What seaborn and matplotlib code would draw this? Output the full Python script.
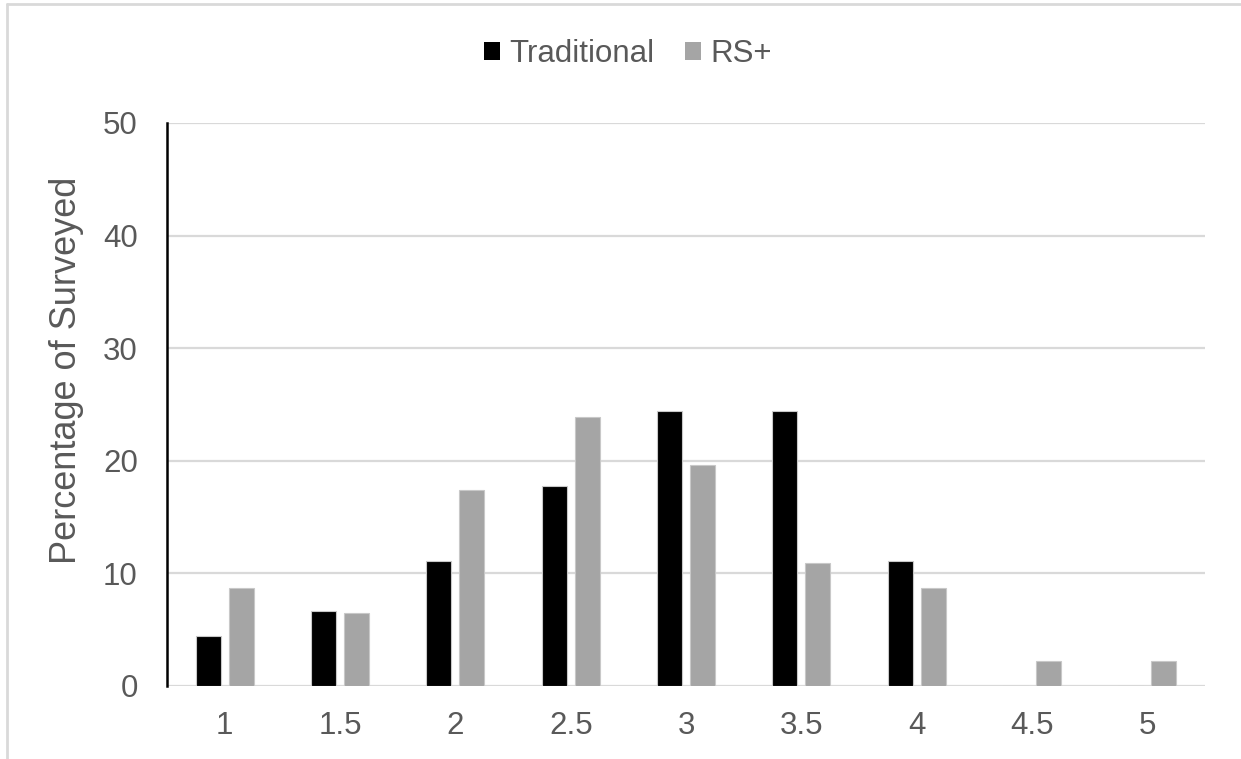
import matplotlib
matplotlib.use("Agg")
import matplotlib.pyplot as plt
from matplotlib.patches import Patch
from matplotlib.lines import Line2D
import seaborn as sns
import pandas as pd

# Score categories and share of respondents (%) per group
scores = ["1", "1.5", "2", "2.5", "3", "3.5", "4", "4.5", "5"]
traditional = [4.4, 6.7, 11.1, 17.8, 24.4, 24.4, 11.1, 0.0, 0.0]
rs_plus = [8.7, 6.5, 17.4, 23.9, 19.6, 10.9, 8.7, 2.2, 2.2]
groups = ["Traditional", "RS+"]
colors = {"Traditional": "#000000", "RS+": "#a5a5a5"}

df = pd.DataFrame({
    "score": scores * 2,
    "pct": traditional + rs_plus,
    "group": ["Traditional"] * len(scores) + ["RS+"] * len(scores),
})

sns.set_style("white")
plt.rcParams["font.family"] = ["Liberation Sans", "DejaVu Sans"]
text_color = "#595959"
fs = 22.5

fig = plt.figure(figsize=(12.41, 7.59), dpi=100)
ax = fig.add_axes([0.1346, 0.0962, 0.8364, 0.7418])

sns.barplot(data=df, x="score", y="pct", hue="group", order=scores,
            hue_order=groups, palette=colors, width=0.57, gap=0.24,
            edgecolor="#c8c8c8", linewidth=0.8, legend=False, ax=ax,
            zorder=3)

ax.set_ylim(0, 50)
ax.set_xlim(-0.5, len(scores) - 0.5)
ax.set_yticks(range(0, 51, 10))
ax.yaxis.grid(True, color="#d9d9d9", linewidth=1.6, zorder=0)
ax.set_axisbelow(True)

for side in ["top", "right", "bottom"]:
    ax.spines[side].set_visible(False)
ax.spines["left"].set_color("black")
ax.spines["left"].set_linewidth(1.8)

ax.tick_params(axis="y", direction="out", length=5, width=1.5,
               color="black", pad=16, labelsize=fs, labelcolor=text_color)
ax.tick_params(axis="x", length=0, pad=18, labelsize=fs,
               labelcolor=text_color)

ax.set_xlabel("")
ax.set_ylabel("Percentage of Surveyed", fontsize=26, color=text_color)
ax.yaxis.set_label_coords(-0.080, 0.561)

handles = [Patch(facecolor=colors[g], edgecolor="none") for g in groups]
fig.legend(handles, groups, loc="center", bbox_to_anchor=(0.506, 1 - 54 / 759),
           ncol=2, frameon=False, fontsize=fs, labelcolor=text_color,
           handlelength=0.5, handleheight=0.5, handletextpad=0.3,
           columnspacing=1.0)

# Light outer frame along the top and left edges
fig.add_artist(Line2D([7 / 1241, 1.0], [1 - 4 / 759, 1 - 4 / 759],
                      transform=fig.transFigure, color="#d9d9d9", linewidth=2))
fig.add_artist(Line2D([7 / 1241, 7 / 1241], [0.0, 1 - 4 / 759],
                      transform=fig.transFigure, color="#d9d9d9", linewidth=2))

fig.savefig("out.png", dpi=100, facecolor="white")
